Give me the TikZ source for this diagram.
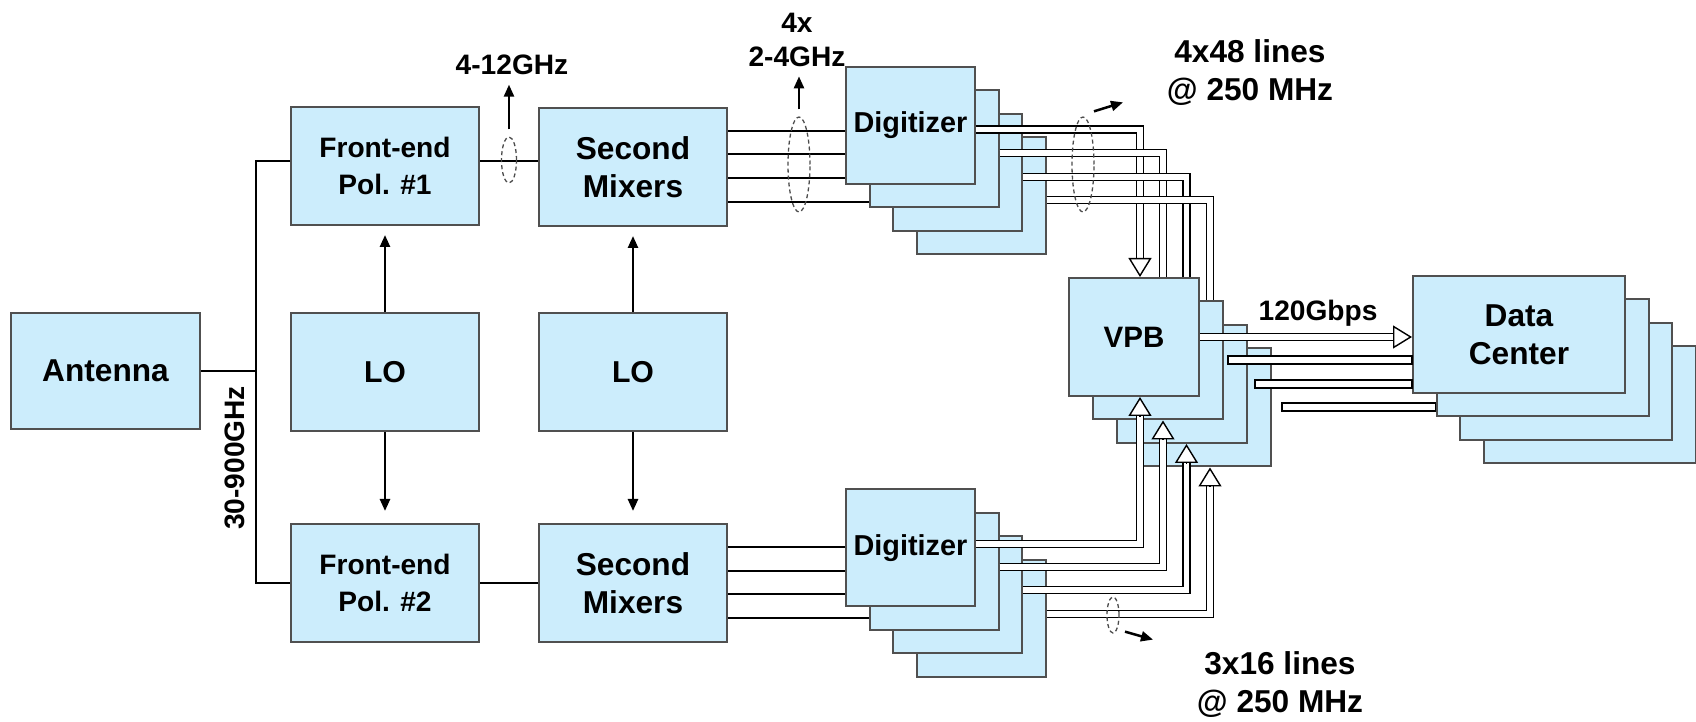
\documentclass[tikz,border=0pt]{standalone}
\usepackage{fontspec}
\setmainfont{Liberation Sans}
\usetikzlibrary{arrows.meta,calc,shapes.geometric}

\definecolor{boxblue}{RGB}{204,237,252}
\definecolor{edgegray}{RGB}{80,80,80}

\tikzset{
  blk/.style={draw=edgegray, fill=boxblue, line width=0.02cm, inner sep=0pt,
    align=center, font=\fontsize{9}{10.8}\selectfont\bfseries},
  wide/.style={blk, minimum width=1.88cm, minimum height=1.18cm},
  card/.style={blk, minimum width=1.29cm, minimum height=1.17cm},
  vcard/.style={blk, minimum width=1.30cm, minimum height=1.18cm},
  dcard/.style={blk, minimum width=2.12cm, minimum height=1.17cm},
  wire/.style={line width=0.025cm},
  arr/.style={-{Triangle[length=0.12cm, width=0.10cm]}},
  lbl/.style={font=\fontsize{8}{9.6}\selectfont\bfseries, inner sep=0pt, align=center},
  biglbl/.style={font=\fontsize{9}{11}\selectfont\bfseries, inner sep=0pt, align=center},
  band/.style={double=white, double distance=0.055cm, line width=0.014cm},
  bandbox/.style={draw, fill=white, line width=0.014cm},
  tipopen/.style={line width=0.014cm, -{Triangle[open, fill=white, length=0.19cm, width=0.23cm]}},
  ring/.style={draw=black!70, ellipse, inner sep=0pt, line width=0.013cm,
    dash pattern=on 0.04cm off 0.03cm},
}

\begin{document}
\begin{tikzpicture}[x=1cm,y=-1cm]
\useasboundingbox (0,0) rectangle (16.96,7.22);

% left part
\node (ant) at (1.055,3.71) [wide, minimum width=1.89cm, minimum height=1.16cm] {Antenna};
\node (fe1) at (3.85,1.66)  [wide, font=\fontsize{8}{10.5}\selectfont\bfseries] {Front-end\\Pol. \#1};
\node (lo1) at (3.85,3.72)  [wide, font=\fontsize{8.6}{10}\selectfont\bfseries] {LO};
\node (fe2) at (3.85,5.83)  [wide, font=\fontsize{8}{10.5}\selectfont\bfseries] {Front-end\\Pol. \#2};
\node (sm1) at (6.33,1.67)  [wide] {Second\\Mixers};
\node (lo2) at (6.33,3.72)  [wide, font=\fontsize{8.6}{10}\selectfont\bfseries] {LO};
\node (sm2) at (6.33,5.83)  [wide] {Second\\Mixers};

% digitizer stacks
\node (dig1d) at (9.81,1.96)   [card] {};
\node (dig1c) at (9.575,1.725) [card] {};
\node (dig1b) at (9.34,1.49)   [card] {};
\node (dig1a) at (9.105,1.255) [card, font=\fontsize{8.2}{10}\selectfont\bfseries] {Digitizer};
\node (dig2d) at (9.81,6.185)  [card] {};
\node (dig2c) at (9.575,5.95)  [card] {};
\node (dig2b) at (9.34,5.715)  [card] {};
\node (dig2a) at (9.105,5.48)  [card, font=\fontsize{8.2}{10}\selectfont\bfseries] {Digitizer};

% VPB and data center stacks
\node (vpb4) at (12.06,4.075)  [vcard] {};
\node (vpb3) at (11.82,3.84)   [vcard] {};
\node (vpb2) at (11.58,3.605)  [vcard] {};
\node (vpb1) at (11.34,3.37)   [vcard, font=\fontsize{8.4}{10}\selectfont\bfseries] {VPB};
\node (dc4) at (15.895,4.05)   [dcard] {};
\node (dc3) at (15.66,3.815)   [dcard] {};
\node (dc2) at (15.425,3.58)   [dcard] {};
\node (dc1) at (15.19,3.345)   [dcard] {Data\\Center};

% RF wiring
\coordinate (bus) at (2.56,3.71);
\draw[wire] (ant.east) -- (bus);
\draw[wire] (fe1.west |- 0,1.61) -| (bus) |- (fe2.west);
\draw[wire] (fe1.east |- 0,1.61) -- (sm1.west |- 0,1.61);
\draw[wire] (fe2.east) -- (sm2.west);
\draw[wire, arr, shorten >=0.09cm] (lo1) -- (fe1);
\draw[wire, arr, shorten >=0.12cm] (lo1) -- (fe2);
\draw[wire, arr, shorten >=0.09cm] (lo2) -- (sm1);
\draw[wire, arr, shorten >=0.12cm] (lo2) -- (sm2);

\draw[wire] (sm1.east |- 0,1.31) -- (dig1a.west |- 0,1.31);
\draw[wire] (sm1.east |- 0,1.54) -- (dig1a.west |- 0,1.54);
\draw[wire] (sm1.east |- 0,1.78) -- (dig1a.west |- 0,1.78);
\draw[wire] (sm1.east |- 0,2.02) -- (dig1b.west |- 0,2.02);
\draw[wire] (sm2.east |- 0,5.47) -- (dig2a.west |- 0,5.47);
\draw[wire] (sm2.east |- 0,5.71) -- (dig2a.west |- 0,5.71);
\draw[wire] (sm2.east |- 0,5.94) -- (dig2a.west |- 0,5.94);
\draw[wire] (sm2.east |- 0,6.18) -- (dig2b.west |- 0,6.18);

% digital lines (bands, then their open tips)
\draw[band, shorten >=0.17cm] (dig1a.east |- 0,1.295) -| (vpb1.north -| 11.40,0);
\draw[band] (dig1b.east |- 0,1.53) -| (vpb1.north -| 11.63,0);
\draw[band] (dig1c.east |- 0,1.77) -| (vpb1.north -| 11.865,0);
\draw[band] (dig1d.east |- 0,2.00) -| (vpb2.north -| 12.10,0);
\draw[band, shorten >=0.17cm] (dig2a.east |- 0,5.44) -| (vpb1.south -| 11.40,0);
\draw[band, shorten >=0.17cm] (dig2b.east |- 0,5.67) -| (vpb2.south -| 11.63,0);
\draw[band, shorten >=0.17cm] (dig2c.east |- 0,5.90) -| (vpb3.south -| 11.865,0);
\draw[band, shorten >=0.17cm] (dig2d.east |- 0,6.14) -| (vpb4.south -| 12.10,0);
\draw[band, shorten >=0.17cm] (vpb1.east |- 0,3.37) -- (dc1.west |- 0,3.37);
\draw[tipopen] (vpb1.north -| 11.40,0) ++(0,-0.19) -- ++(0,0.19);
\draw[tipopen] (vpb1.south -| 11.40,0) ++(0,0.19) -- ++(0,-0.19);
\draw[tipopen] (vpb2.south -| 11.63,0) ++(0,0.19) -- ++(0,-0.19);
\draw[tipopen] (vpb3.south -| 11.865,0) ++(0,0.19) -- ++(0,-0.19);
\draw[tipopen] (vpb4.south -| 12.10,0) ++(0,0.19) -- ++(0,-0.19);
\draw[tipopen] (dc1.west |- 0,3.37) ++(-0.19,0) -- ++(0.19,0);
\draw[bandbox] ([xshift=0.04cm]vpb2.east |- 0,3.56) rectangle (dc1.west |- 0,3.64);
\draw[bandbox] ([xshift=0.07cm]vpb3.east |- 0,3.80) rectangle (dc1.west |- 0,3.88);
\draw[bandbox] ([xshift=0.10cm]vpb4.east |- 0,4.03) rectangle (dc2.west |- 0,4.11);

% rings and labels
\node (ring1) at (5.09,1.60)  [ring, minimum width=0.15cm, minimum height=0.46cm] {};
\node (ring2) at (7.99,1.645) [ring, minimum width=0.22cm, minimum height=0.95cm] {};
\node (ring3) at (10.83,1.645) [ring, minimum width=0.22cm, minimum height=0.95cm] {};
\node (ring4) at (11.13,6.15) [ring, minimum width=0.12cm, minimum height=0.36cm] {};
\node (ifa) at (5.12,0.65)  [lbl] {4-12GHz};
\node (ifb) at (7.97,0.40)  [lbl] {4x\\2-4GHz};
\node (rf)  at (2.35,4.58)  [lbl, rotate=90] {30-900GHz};
\node (rate) at (13.18,3.13) [lbl] {120Gbps};
\node (linesa) at (12.50,0.725) [biglbl] {4x48 lines\\@ 250 MHz};
\node (linesb) at (12.80,6.845) [biglbl] {3x16 lines\\@ 250 MHz};
\draw[wire, arr, shorten <=0.07cm, shorten >=0.09cm] (ring1.north) -- (ring1.north |- ifa.south);
\draw[wire, arr, shorten <=0.07cm, shorten >=0.09cm] (ring2.north) -- (ring2.north |- ifb.south);
\draw[wire, arr] ($(ring3.north)+(0.11,-0.05)$) -- ++(0.29,-0.09);
\draw[wire, arr] ($(ring4.south)+(0.12,-0.02)$) -- ++(0.28,0.08);
\end{tikzpicture}
\end{document}
